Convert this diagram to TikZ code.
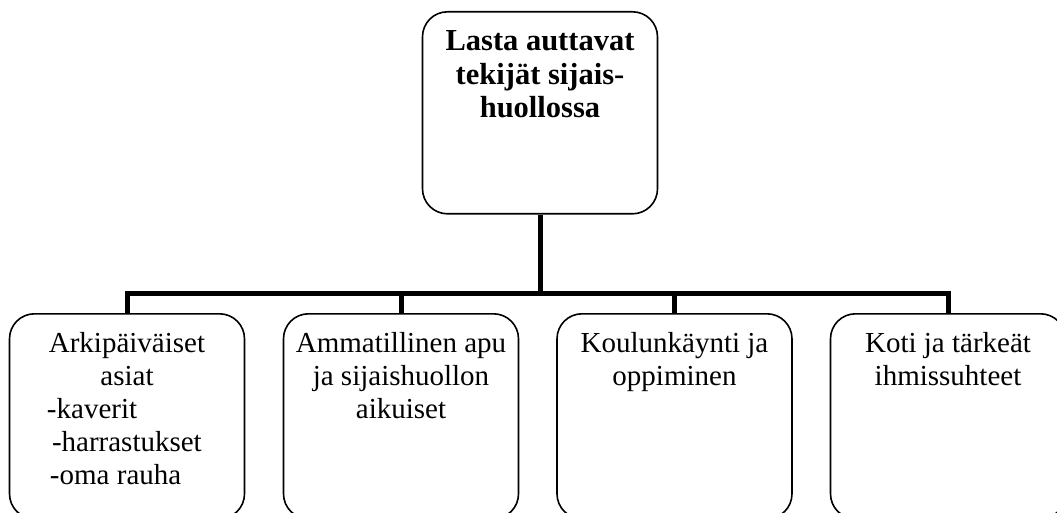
\documentclass[tikz,border=0pt]{standalone}
\usepackage{fontspec}
\setmainfont{Liberation Serif}
\usetikzlibrary{calc}

\begin{document}
\begin{tikzpicture}[x=1pt,y=-1pt,
        box/.style={draw, line width=1.6pt, rounded corners=25pt, inner sep=0pt, minimum width=235pt, anchor=north, font=\fontsize{29}{33}\selectfont},
        link/.style={line width=5pt}]
        \useasboundingbox (0,0) rectangle (1057,513);
        \clip (0,0) rectangle (1057,513);

        % Top box
        \node[box, font=\fontsize{30.5}{33.5}\selectfont] (tekijat) at (540,11) {\parbox[c][202pt][t]{210pt}{\centering\bfseries\rule{0pt}{39pt}Lasta auttavat\\ tekijät sijais-\\ huollossa}};

        % Lower boxes
        \node[box] (arki) at (127,313) {\parbox[c][205pt][t]{200pt}{\centering\rule{0pt}{39pt}Arkipäiväiset\\ asiat\\
            \makebox[\linewidth][l]{\hspace*{20pt}-kaverit}\\
            \makebox[\linewidth][l]{\hspace*{25pt}-harrastukset}\\
            \makebox[\linewidth][l]{\hspace*{23pt}-oma rauha}}};
        \node[box] (ammatti) at (401,313) {\parbox[c][205pt][t]{215pt}{\centering\rule{0pt}{39pt}Ammatillinen apu\\ ja sijaishuollon\\ aikuiset}};
        \node[box] (koulu) at (674.5,313) {\parbox[c][205pt][t]{200pt}{\centering\rule{0pt}{39pt}Koulunkäynti ja\\ oppiminen}};
        \node[box] (koti) at (948,313) {\parbox[c][205pt][t]{200pt}{\centering\rule{0pt}{39pt}Koti ja tärkeät\\ ihmissuhteet}};

        % Connectors
        \coordinate (bus) at (0,293);
        \draw[link] (tekijat.south) -- (tekijat.south |- bus);
        \draw[link] (arki.north) |- (bus -| koti.north) -- (koti.north);
        \draw[link] (ammatti.north) -- (ammatti.north |- bus);
        \draw[link] (koulu.north) -- (koulu.north |- bus);

\end{tikzpicture}
\end{document}
